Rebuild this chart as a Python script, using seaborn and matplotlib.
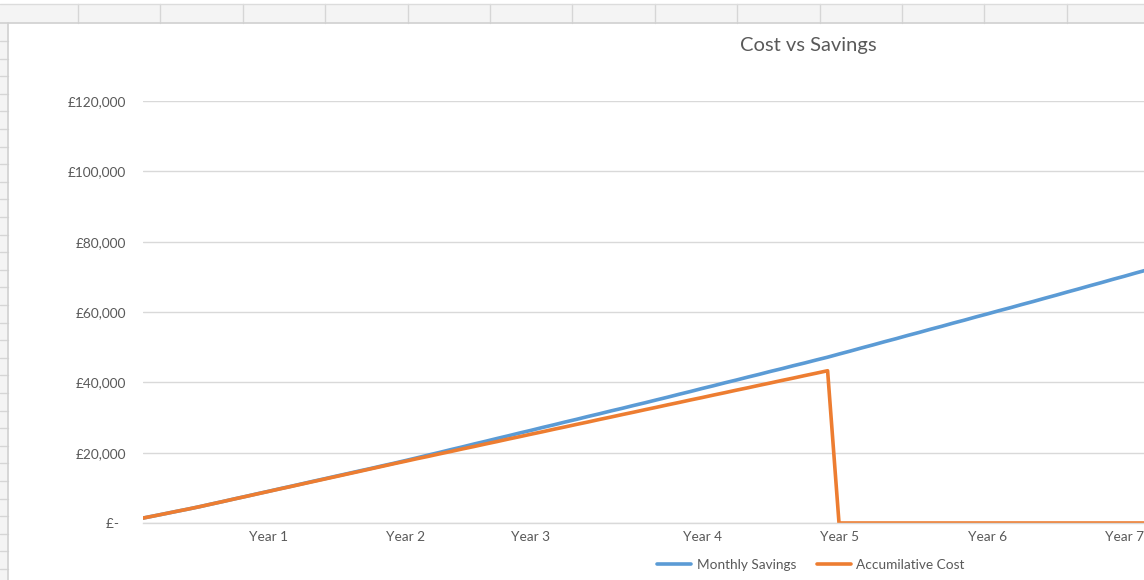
import numpy as np
import pandas as pd
import seaborn as sns
from matplotlib import pyplot as plt
from matplotlib.patches import Rectangle
from matplotlib.lines import Line2D

# monthly points
monthly_savings = [
    1400, 2040, 2690, 3350, 3990, 4670, 5400, 6110, 6850, 7560,
    8300, 9010, 9750, 10460, 11190, 11930, 12640, 13380, 14090, 14830,
    15530, 16280, 16990, 17750, 18520, 19310, 20080, 20880, 21640, 22450,
    23210, 24010, 24780, 25580, 26340, 27150, 27910, 28720, 29480, 30290,
    31050, 31860, 32610, 33420, 34190, 35000, 35790, 36620, 37410, 38250,
    39030, 39870, 40650, 41480, 42270, 43110, 43890, 44730, 45510, 46350,
    47150, 48040, 48900, 49800, 50660, 51560, 52410, 53320, 54170, 55080,
    55930, 56840, 57690, 58600, 59450, 60350, 61200, 62110, 62970, 63880,
    64760, 65680, 66560, 67480, 68360, 69290, 70160, 71090, 71970,
]
accumilative_cost = [
    1400, 2040, 2690, 3350, 3990, 4670, 5390, 6100, 6830, 7540,
    8260, 8980, 9700, 10400, 11130, 11840, 12560, 13270, 13990, 14700,
    15430, 16140, 16870, 17560, 18280, 18950, 19670, 20350, 21070, 21740,
    22460, 23140, 23860, 24540, 25250, 25930, 26650, 27330, 28040, 28720,
    29440, 30120, 30830, 31510, 32220, 32900, 33610, 34290, 35000, 35670,
    36380, 37060, 37770, 38440, 39150, 39830, 40540, 41210, 41920, 42600,
    43300, 0, 0, 0, 0, 0, 0, 0, 0, 0,
    0, 0, 0, 0, 0, 0, 0, 0, 0, 0,
    0, 0, 0, 0, 0, 0, 0, 0, 0,
]
year_labels = ["Year 1", "Year 2", "Year 3", "Year 4", "Year 5", "Year 6", "Year 7"]
year_index = [11, 23, 34, 49, 61, 74, 86]
y_values = [0, 20000, 40000, 60000, 80000, 100000, 120000]
y_labels = ["£-  ", "£20,000", "£40,000", "£60,000", "£80,000", "£100,000", "£120,000"]

df = pd.DataFrame({
    "month": np.arange(len(monthly_savings)),
    "Monthly Savings": monthly_savings,
    "Accumilative Cost": accumilative_cost,
})

sns.set_style("white")
plt.rcParams['font.family'] = ['Lato', 'DejaVu Sans']

W, H = 1144, 580
fig = plt.figure(figsize=(W / 100, H / 100), dpi=100)
fig.patch.set_facecolor('white')

# excel sheet bits around the chart
fig.add_artist(Rectangle((0, 1 - 23 / H), 1, 19 / H, transform=fig.transFigure,
                         facecolor='#F4F4F4', edgecolor='none'))
fig.add_artist(Rectangle((0, 0), 8 / W, 1 - 23 / H, transform=fig.transFigure,
                         facecolor='#F4F4F4', edgecolor='none'))
for xc in np.arange(78, W, 82.4):
    fig.add_artist(Line2D([xc / W, xc / W], [1 - 23 / H, 1 - 4 / H], transform=fig.transFigure,
                          color='#D6D6D6', lw=1))
for yc in np.arange(41, H, 17.6):
    fig.add_artist(Line2D([0, 8 / W], [1 - yc / H, 1 - yc / H], transform=fig.transFigure,
                          color='#D6D6D6', lw=1))
fig.add_artist(Line2D([0, 1], [1 - 23 / H, 1 - 23 / H], transform=fig.transFigure, color='#D0D0D0', lw=1.2))
fig.add_artist(Line2D([0, 1], [1 - 4 / H, 1 - 4 / H], transform=fig.transFigure, color='#DCDCDC', lw=1))
fig.add_artist(Line2D([8 / W, 8 / W], [0, 1 - 23 / H], transform=fig.transFigure, color='#D0D0D0', lw=1.2))

# plot area: 11.41 px per month, spilling over the right edge like the screenshot
step = 11.41
x_max = len(monthly_savings) - 1
ax = fig.add_axes([143 / W, (H - 523) / H, x_max * step / W, 422 / H])

sns.lineplot(data=df, x="month", y="Monthly Savings", ax=ax, color='#5B9BD5', lw=2.6,
             label="Monthly Savings", solid_joinstyle='round', solid_capstyle='round')
sns.lineplot(data=df, x="month", y="Accumilative Cost", ax=ax, color='#ED7D31', lw=2.6,
             label="Accumilative Cost", solid_joinstyle='round', solid_capstyle='round')

ax.set_xlim(0, x_max)
ax.set_ylim(0, 120000)
ax.set_yticks(y_values)
ax.set_yticklabels(y_labels)
ax.set_xticks(year_index)
ax.set_xticklabels(year_labels)
ax.tick_params(axis='both', length=0, labelsize=9.8, labelcolor='#595959')
ax.tick_params(axis='y', pad=12)
ax.tick_params(axis='x', pad=6)
ax.set_xlabel("")
ax.set_ylabel("")
ax.grid(axis='y', color='#D9D9D9', lw=1)
ax.set_axisbelow(True)
for s in ['top', 'right', 'left']:
    ax.spines[s].set_visible(False)
ax.spines['bottom'].set_color('#D9D9D9')
ax.spines['bottom'].set_linewidth(1)

handles, labels = ax.get_legend_handles_labels()
ax.get_legend().remove()
fig.legend(handles, labels, loc='center', bbox_to_anchor=(811 / W, 1 - 565 / H), ncol=2,
           frameon=False, fontsize=9.8, labelcolor='#595959', handlelength=2.5,
           handletextpad=0.4, columnspacing=1.5)

fig.text(808 / W, 1 - 45 / H, "Cost vs Savings", ha='center', va='center',
         fontsize=14.5, color='#595959')

fig.savefig("out.png", dpi=100)
